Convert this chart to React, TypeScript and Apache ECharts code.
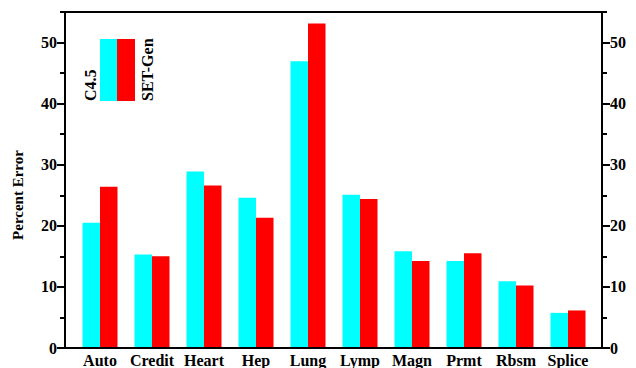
import React, { useEffect, useRef } from "react";
import * as echarts from "echarts";

const categories = ["Auto", "Credit", "Heart", "Hep", "Lung", "Lymp", "Magn", "Prmt", "Rbsm", "Splice"];
const c45Values = [20.4, 15.2, 28.8, 24.5, 46.9, 25.0, 15.7, 14.1, 10.8, 5.6];
const setGenValues = [26.3, 14.9, 26.5, 21.2, 53.1, 24.3, 14.1, 15.4, 10.1, 6.0];
const seriesNames = ["C4.5", "SET-Gen"];
const yMajorTicks = [0, 10, 20, 30, 40, 50];
const yMinorTicks = [5, 15, 25, 35, 45, 55];
const yAxisName = "Percent Error";

const FONT = "'Liberation Serif', 'Times New Roman', serif";
const CYAN = "#00ffff";
const RED = "#ff0000";

export default function App() {
  const ref = useRef<HTMLDivElement>(null);
  useEffect(() => {
    if (!ref.current) return;
    const chart = echarts.init(ref.current, undefined, { renderer: "svg" });
    const labelStyle = { fontFamily: FONT, fontWeight: "bold", fontSize: 16, color: "#000" };
    const majorAxis = (position: string) => ({
      type: "value",
      gridIndex: 0,
      position,
      min: 0,
      max: 55,
      axisLine: { show: true, lineStyle: { color: "#000", width: 2 } },
      axisTick: { show: true, customValues: yMajorTicks, length: 8, lineStyle: { color: "#000", width: 2 } },
      axisLabel: { ...labelStyle, customValues: yMajorTicks, margin: 8 },
      splitLine: { show: false },
    });
    const minorAxis = (position: string) => ({
      type: "value",
      gridIndex: 0,
      position,
      min: 0,
      max: 55,
      axisLine: { show: false },
      axisTick: { show: true, customValues: yMinorTicks, length: 5, lineStyle: { color: "#000", width: 2 } },
      axisLabel: { show: false },
      splitLine: { show: false },
    });
    chart.setOption({
      animation: false,
      backgroundColor: "#fff",
      grid: [
        { left: 65, right: 34, top: 12, bottom: 20, show: true, borderColor: "#000", borderWidth: 2, backgroundColor: "transparent" },
        { left: 74, right: 42, top: 12, bottom: 20 },
      ],
      xAxis: [
        {
          type: "value",
          gridIndex: 0,
          min: 0,
          max: 1,
          axisLine: { show: true, lineStyle: { color: "#000", width: 2 } },
          axisTick: { show: false },
          axisLabel: { show: false },
          splitLine: { show: false },
        },
        {
          type: "category",
          gridIndex: 1,
          data: categories,
          axisLine: { show: false },
          axisTick: { show: false },
          axisLabel: { ...labelStyle, margin: 5, interval: 0 },
        },
      ],
      yAxis: [
        majorAxis("left"),
        minorAxis("left"),
        majorAxis("right"),
        minorAxis("right"),
        { type: "value", gridIndex: 1, min: 0, max: 55, show: false },
      ],
      series: [
        {
          name: seriesNames[0],
          type: "bar",
          xAxisIndex: 1,
          yAxisIndex: 4,
          data: c45Values,
          barWidth: 17.5,
          barGap: "0%",
          itemStyle: { color: CYAN },
        },
        {
          name: seriesNames[1],
          type: "bar",
          xAxisIndex: 1,
          yAxisIndex: 4,
          data: setGenValues,
          barWidth: 17.5,
          barGap: "0%",
          itemStyle: { color: RED },
        },
      ],
      graphic: [
        {
          type: "text",
          x: 18,
          y: 195,
          rotation: Math.PI / 2,
          style: { text: yAxisName, font: `bold 15px ${FONT}`, fill: "#000", align: "center", verticalAlign: "middle" },
        },
        { type: "rect", shape: { x: 100, y: 39, width: 17, height: 62 }, style: { fill: CYAN } },
        { type: "rect", shape: { x: 117, y: 39, width: 18, height: 62 }, style: { fill: RED } },
        {
          type: "text",
          x: 90,
          y: 101,
          rotation: Math.PI / 2,
          style: { text: seriesNames[0], font: `bold 16px ${FONT}`, fill: "#000", align: "left", verticalAlign: "middle" },
        },
        {
          type: "text",
          x: 147,
          y: 101,
          rotation: Math.PI / 2,
          style: { text: seriesNames[1], font: `bold 16px ${FONT}`, fill: "#000", align: "left", verticalAlign: "middle" },
        },
      ],
    });
    return () => chart.dispose();
  }, []);
  return <div ref={ref} style={{ position: "fixed", left: 0, top: 0, width: 636, height: 368 }} />;
}
